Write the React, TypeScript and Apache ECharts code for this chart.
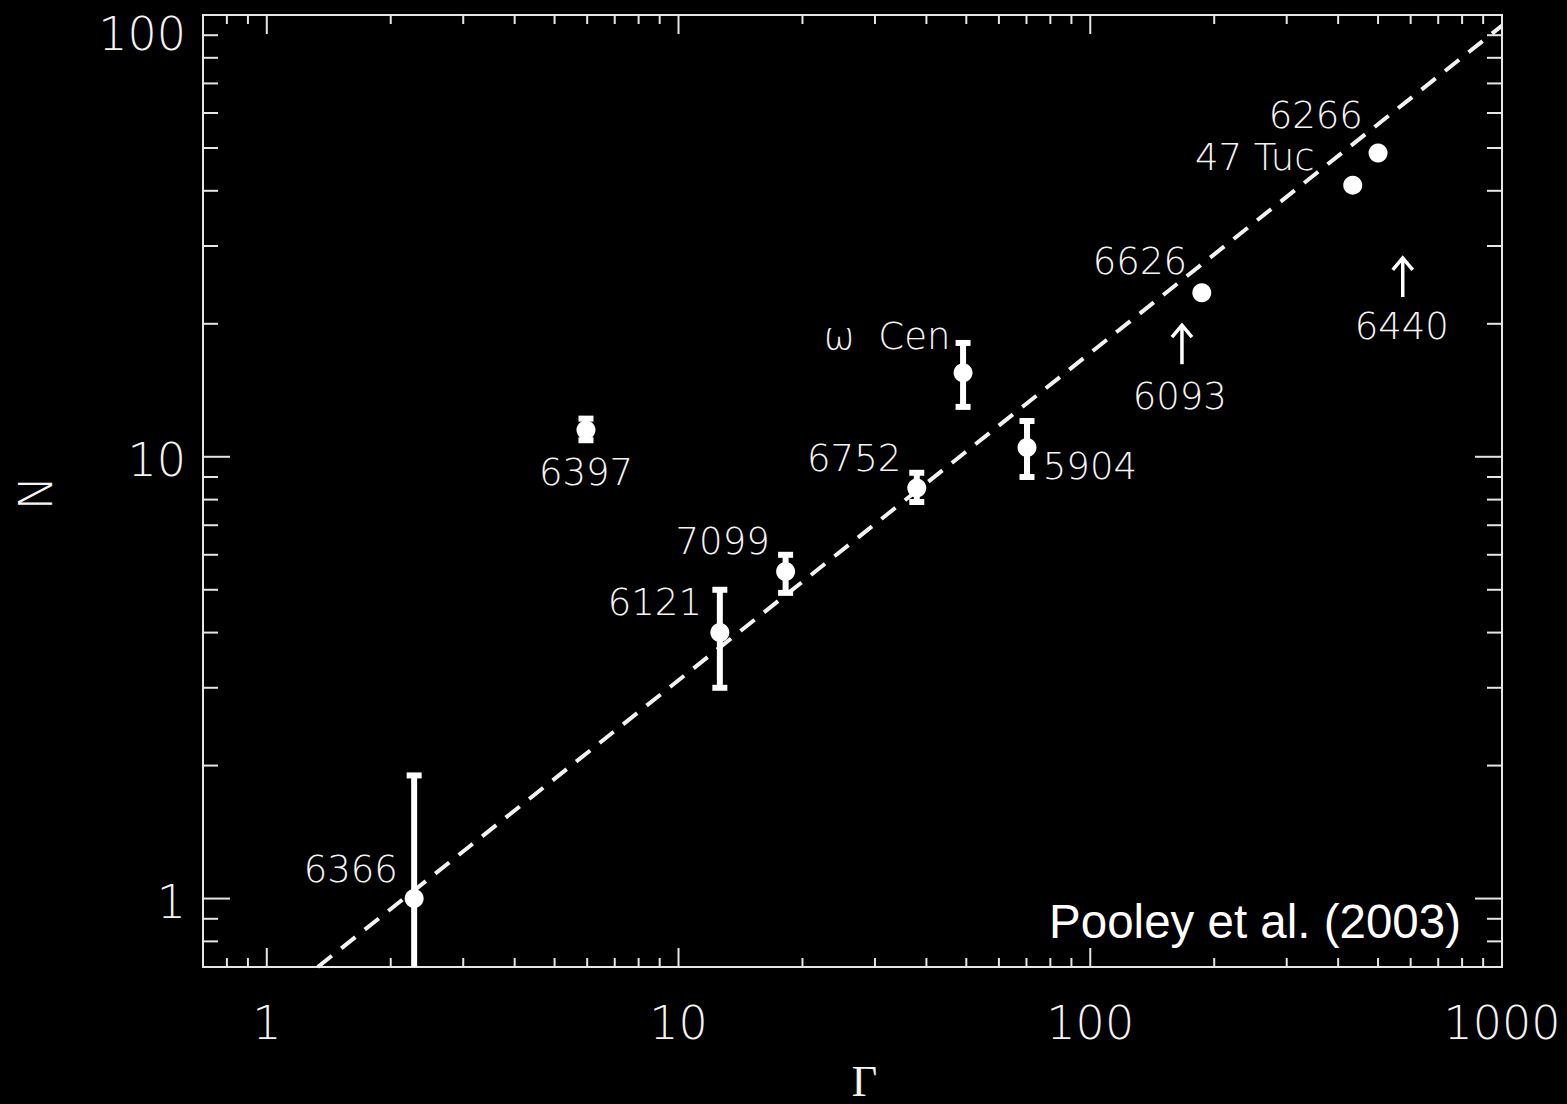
import React, { useEffect, useRef } from 'react';
import * as echarts from 'echarts';

// ---- axis ranges ----
const X_MIN = 0.7;
const X_MAX = 1000;
const Y_MIN = 0.7;
const Y_MAX = 100;

// ---- clusters with measured N ----
const clusterNames = ['6366', '6397', '6121', '7099', '6752', 'ω Cen', '5904', '6626', '47 Tuc', '6266'];
const gammaValues = [2.28, 5.96, 12.6, 18.2, 37.9, 49.1, 70.2, 186.6, 434, 500];
const nValues = [1.0, 11.5, 4.0, 5.5, 8.5, 15.5, 10.5, 23.5, 41.2, 48.7];
const nLower = [0.5, 10.9, 3.0, 4.92, 7.9, 12.97, 9.0, null, null, null];
const nUpper = [1.9, 12.2, 5.0, 6.0, 9.2, 18.1, 12.05, null, null, null];

// ---- clusters shown as arrows (base of arrow) ----
const limitNames = ['6093', '6440'];
const limitGamma = [167, 574];
const limitN = [16.2, 23.0];

// ---- fitted relation (dashed line end points) ----
const fitGamma = [1.33, 1000];
const fitN = [0.70, 94.6];

// ---- annotation labels (anchored in data coordinates) ----
const labelTexts = ['6366', '6397', '7099', '6121', '6752', 'ω  Cen', '5904', '6626', '6093', '6440', '6266', '47 Tuc'];
const labelGamma = [1.60, 5.96, 12.8, 8.76, 26.7, 32.1, 99.8, 132, 165, 571, 353, 251];
const labelN = [1.163, 9.2, 6.42, 4.67, 9.9, 18.7, 9.5, 27.6, 13.7, 19.7, 59.1, 47.7];

// ---- ticks ----
const xMajorTicks = [1, 10, 100, 1000];
const xTickLabels = ['1', '10', '100', '1000'];
const yMajorTicks = [1, 10, 100];
const yTickLabels = ['1', '10', '100'];
const xMinorTicks = [0.8, 0.9, 2, 3, 4, 5, 6, 7, 8, 9, 20, 30, 40, 50, 60, 70, 80, 90, 200, 300, 400, 500, 600, 700, 800, 900];
const yMinorTicks = [0.8, 0.9, 2, 3, 4, 5, 6, 7, 8, 9, 20, 30, 40, 50, 60, 70, 80, 90];

const xAxisTitle = 'Γ';
const yAxisTitle = 'N';
const creditText = 'Pooley et al. (2003)';

const FG = '#e6e6e6';
const TEXT = '#f4f4f4';
const THIN_FONT = '"DejaVu Sans", sans-serif';
const THIN_WEIGHT = 200;

function buildGraphic(chart: any) {
  const px = (v: number) => chart.convertToPixel({ xAxisIndex: 0 }, v) as number;
  const py = (v: number) => chart.convertToPixel({ yAxisIndex: 0 }, v) as number;
  const left = px(X_MIN);
  const right = px(X_MAX);
  const top = py(Y_MAX);
  const bottom = py(Y_MIN);
  const els: any[] = [];
  const line = (x1: number, y1: number, x2: number, y2: number) =>
    els.push({ type: 'line', z: 20, silent: true, shape: { x1, y1, x2, y2 }, style: { stroke: FG, lineWidth: 2 } });

  const xMaj = 19, xMin = 9, yMaj = 27, yMin = 15;
  xMajorTicks.forEach((v) => {
    const x = px(v);
    line(x, bottom, x, bottom - xMaj);
    line(x, top, x, top + xMaj);
  });
  xMinorTicks.forEach((v) => {
    const x = px(v);
    line(x, bottom, x, bottom - xMin);
    line(x, top, x, top + xMin);
  });
  yMajorTicks.forEach((v) => {
    const y = py(v);
    line(left, y, left + yMaj, y);
    line(right, y, right - yMaj, y);
  });
  yMinorTicks.forEach((v) => {
    const y = py(v);
    line(left, y, left + yMin, y);
    line(right, y, right - yMin, y);
  });

  xMajorTicks.forEach((v, i) => {
    els.push({
      type: 'text', z: 20, silent: true, x: px(v), y: bottom + 56,
      style: { text: xTickLabels[i], fill: TEXT, fontSize: 46, fontFamily: THIN_FONT, fontWeight: THIN_WEIGHT, align: 'center', verticalAlign: 'middle' },
    });
  });
  yMajorTicks.forEach((v, i) => {
    const y = py(v);
    const atTop = Math.abs(y - top) < 5;
    els.push({
      type: 'text', z: 20, silent: true, x: left - 17, y: atTop ? top - 4 : y + 3,
      style: { text: yTickLabels[i], fill: TEXT, fontSize: 46, fontFamily: THIN_FONT, fontWeight: THIN_WEIGHT, align: 'right', verticalAlign: atTop ? 'top' : 'middle' },
    });
  });

  els.push({
    type: 'text', z: 20, silent: true, x: (left + right) / 2 + 12, y: 1103,
    style: { text: xAxisTitle, fill: TEXT, fontSize: 44, fontFamily: '"Liberation Serif", serif', align: 'center', verticalAlign: 'bottom' },
  });
  els.push({
    type: 'text', z: 20, silent: true, x: 36, y: (top + bottom) / 2 + 2, rotation: Math.PI / 2,
    style: { text: yAxisTitle, fill: TEXT, fontSize: 46, fontFamily: THIN_FONT, fontWeight: THIN_WEIGHT, align: 'center', verticalAlign: 'middle' },
  });
  els.push({
    type: 'text', z: 20, silent: true, x: right - 41, y: bottom - 46,
    style: { text: creditText, fill: '#ffffff', fontSize: 47.5, fontFamily: '"Liberation Sans", Arial, sans-serif', align: 'right', verticalAlign: 'middle' },
  });
  return els;
}

export default function App() {
  const ref = useRef<HTMLDivElement>(null);
  useEffect(() => {
    const chart = echarts.init(ref.current!, null, { renderer: 'svg' });

    const errData = gammaValues
      .map((g, i) => [g, nLower[i], nUpper[i]])
      .filter((d) => d[1] != null && d[2] != null);

    const option: any = {
      animation: false,
      backgroundColor: '#000000',
      grid: { left: 203, right: 65, top: 15, bottom: 137, show: true, borderColor: FG, borderWidth: 2, backgroundColor: 'transparent' },
      xAxis: {
        type: 'log', logBase: 10, min: X_MIN, max: X_MAX,
        axisLine: { show: false }, axisTick: { show: false }, axisLabel: { show: false }, splitLine: { show: false },
      },
      yAxis: {
        type: 'log', logBase: 10, min: Y_MIN, max: Y_MAX,
        axisLine: { show: false }, axisTick: { show: false }, axisLabel: { show: false }, splitLine: { show: false },
      },
      series: [
        {
          type: 'line', name: 'fit', data: fitGamma.map((g, i) => [g, fitN[i]]), symbol: 'none', clip: true,
          lineStyle: { color: '#f2f2f2', width: 4, type: [18, 12] }, z: 2,
        },
        {
          type: 'custom', name: 'errors', data: errData, z: 3,
          encode: { x: 0, y: [1, 2] },
          renderItem: (params: any, api: any) => {
            const x = api.value(0);
            const lo = api.value(1);
            const hi = api.value(2);
            const t = api.coord([x, hi]);
            const b = api.coord([x, lo]);
            const cs = params.coordSys;
            const yEdge = cs.y + cs.height;
            const by = Math.min(b[1], yEdge);
            const hw = 7.5;
            const st = { stroke: '#ffffff', lineWidth: 6 };
            const children: any[] = [
              { type: 'line', shape: { x1: t[0], y1: t[1], x2: t[0], y2: by }, style: st },
              { type: 'line', shape: { x1: t[0] - hw, y1: t[1], x2: t[0] + hw, y2: t[1] }, style: st },
            ];
            if (b[1] < yEdge) {
              children.push({ type: 'line', shape: { x1: b[0] - hw, y1: b[1], x2: b[0] + hw, y2: b[1] }, style: st });
            }
            return { type: 'group', children };
          },
        },
        {
          type: 'scatter', name: 'clusters', z: 4,
          data: gammaValues.map((g, i) => ({ name: clusterNames[i], value: [g, nValues[i]] })),
          symbol: 'circle', symbolSize: 19, itemStyle: { color: '#ffffff', opacity: 1 },
        },
        {
          type: 'custom', name: 'limits', z: 4,
          data: limitGamma.map((g, i) => ({ name: limitNames[i], value: [g, limitN[i]] })),
          renderItem: (params: any, api: any) => {
            const p = api.coord([api.value(0), api.value(1)]);
            const tipY = p[1] - 40;
            const st = { stroke: '#ffffff', lineWidth: 3.5, fill: 'none' };
            return {
              type: 'group',
              children: [
                { type: 'line', shape: { x1: p[0], y1: p[1], x2: p[0], y2: tipY + 1 }, style: st },
                { type: 'polyline', shape: { points: [[p[0] - 10, tipY + 13], [p[0], tipY + 1], [p[0] + 10, tipY + 13]] }, style: st },
              ],
            };
          },
        },
        {
          type: 'scatter', name: 'labels', z: 5, silent: true,
          data: labelTexts.map((t, i) => ({ name: t, value: [labelGamma[i], labelN[i]] })),
          symbol: 'circle', symbolSize: 1, itemStyle: { color: '#000000', opacity: 1 },
          label: {
            show: true, position: 'inside', formatter: '{b}', color: TEXT, fontSize: 37, opacity: 1,
            textBorderWidth: 0, textBorderColor: 'transparent',
            fontFamily: THIN_FONT, fontWeight: THIN_WEIGHT, align: 'center', verticalAlign: 'middle',
          },
        },
      ],
    };

    chart.setOption(option);
    chart.setOption({ graphic: buildGraphic(chart) });
    return () => chart.dispose();
  }, []);

  return <div ref={ref} style={{ position: 'fixed', left: 0, top: 0, width: 1567, height: 1104 }} />;
}
